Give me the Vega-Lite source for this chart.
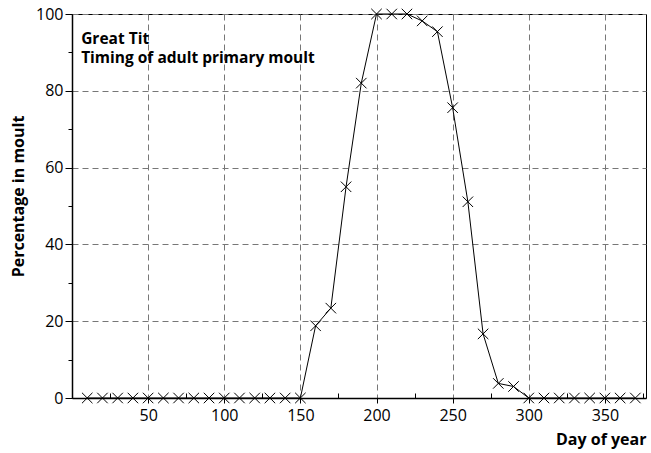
{
  "$schema": "https://vega.github.io/schema/vega-lite/v6.json",
  "width": 574,
  "height": 384,
  "autosize": {"type": "none"},
  "padding": {"left": 72, "top": 14, "right": 5, "bottom": 55},
  "background": "white",
  "config": {
    "font": "Open Sans",
    "view": {"stroke": "black", "strokeWidth": 1},
    "axis": {"labelFont": "Open Sans", "titleFont": "Open Sans", "labelColor": "black", "titleColor": "black", "tickColor": "black", "domainColor": "black"}
  },
  "data": {
    "values": [
      {"day": 10, "pct": 0}, {"day": 20, "pct": 0}, {"day": 30, "pct": 0}, {"day": 40, "pct": 0},
      {"day": 50, "pct": 0}, {"day": 60, "pct": 0}, {"day": 70, "pct": 0}, {"day": 80, "pct": 0},
      {"day": 90, "pct": 0}, {"day": 100, "pct": 0}, {"day": 110, "pct": 0}, {"day": 120, "pct": 0},
      {"day": 130, "pct": 0}, {"day": 140, "pct": 0}, {"day": 150, "pct": 0}, {"day": 160, "pct": 18.8},
      {"day": 170, "pct": 23.4}, {"day": 180, "pct": 55.0}, {"day": 190, "pct": 82.0}, {"day": 200, "pct": 100},
      {"day": 210, "pct": 100}, {"day": 220, "pct": 100}, {"day": 230, "pct": 98.2}, {"day": 240, "pct": 95.4},
      {"day": 250, "pct": 75.6}, {"day": 260, "pct": 51.1}, {"day": 270, "pct": 16.7}, {"day": 280, "pct": 3.8},
      {"day": 290, "pct": 3.0}, {"day": 300, "pct": 0}, {"day": 310, "pct": 0}, {"day": 320, "pct": 0},
      {"day": 330, "pct": 0}, {"day": 340, "pct": 0}, {"day": 350, "pct": 0}, {"day": 360, "pct": 0},
      {"day": 370, "pct": 0}
    ]
  },
  "resolve": {"axis": {"x": "independent", "y": "independent"}},
  "layer": [
    {
      "mark": {"type": "point", "opacity": 0},
      "encoding": {
        "x": {"field": "day", "type": "quantitative", "scale": {"domain": [0, 377], "nice": false, "zero": false},
          "axis": {"orient": "bottom", "values": [25, 75, 125, 175, 225, 275, 325, 375], "labels": false, "grid": false, "domain": false, "tickSize": -5, "title": null}},
        "y": {"field": "pct", "type": "quantitative", "scale": {"domain": [0, 100], "nice": false},
          "axis": {"orient": "left", "values": [10, 30, 50, 70, 90], "labels": false, "grid": false, "domain": false, "tickSize": 4, "title": null}}
      }
    },
    {
      "mark": {"type": "line", "color": "black", "strokeWidth": 1},
      "encoding": {
        "x": {"field": "day", "type": "quantitative",
          "axis": {"orient": "bottom", "values": [50, 100, 150, 200, 250, 300, 350], "grid": true, "gridDash": [6, 4], "gridColor": "#777777", "gridOpacity": 1, "gridWidth": 1,
            "domainColor": "black", "domainWidth": 1.5, "tickSize": 5, "labelFontSize": 16, "labelPadding": 4,
            "title": "Day of year", "titleFontSize": 16, "titleFontWeight": "bold", "titleAnchor": "end", "titlePadding": 8}},
        "y": {"field": "pct", "type": "quantitative",
          "axis": {"orient": "left", "values": [0, 20, 40, 60, 80, 100], "grid": true, "gridDash": [6, 4], "gridColor": "#777777", "gridOpacity": 1, "gridWidth": 1,
            "domainColor": "black", "domainWidth": 1.5, "tickSize": 7, "labelFontSize": 16, "labelPadding": 2,
            "title": "Percentage in moult", "titleFontSize": 16, "titleFontWeight": "bold", "titleY": 182, "titlePadding": 9}}
      }
    },
    {
      "mark": {"type": "point", "shape": "M-1,-1L1,1M-1,1L1,-1", "filled": false, "color": "black", "strokeWidth": 1, "size": 110, "opacity": 1},
      "encoding": {
        "x": {"field": "day", "type": "quantitative", "axis": null},
        "y": {"field": "pct", "type": "quantitative", "axis": null}
      }
    },
    {
      "data": {"values": [{"label": "Great Tit", "tx": 6, "ty": 92.3}, {"label": "Timing of adult primary moult", "tx": 6, "ty": 87.2}]},
      "mark": {"type": "text", "align": "left", "baseline": "alphabetic", "fontSize": 15.5, "fontWeight": "bold", "color": "black", "font": "Open Sans"},
      "encoding": {
        "x": {"field": "tx", "type": "quantitative", "axis": null},
        "y": {"field": "ty", "type": "quantitative", "axis": null},
        "text": {"field": "label"}
      }
    }
  ]
}
